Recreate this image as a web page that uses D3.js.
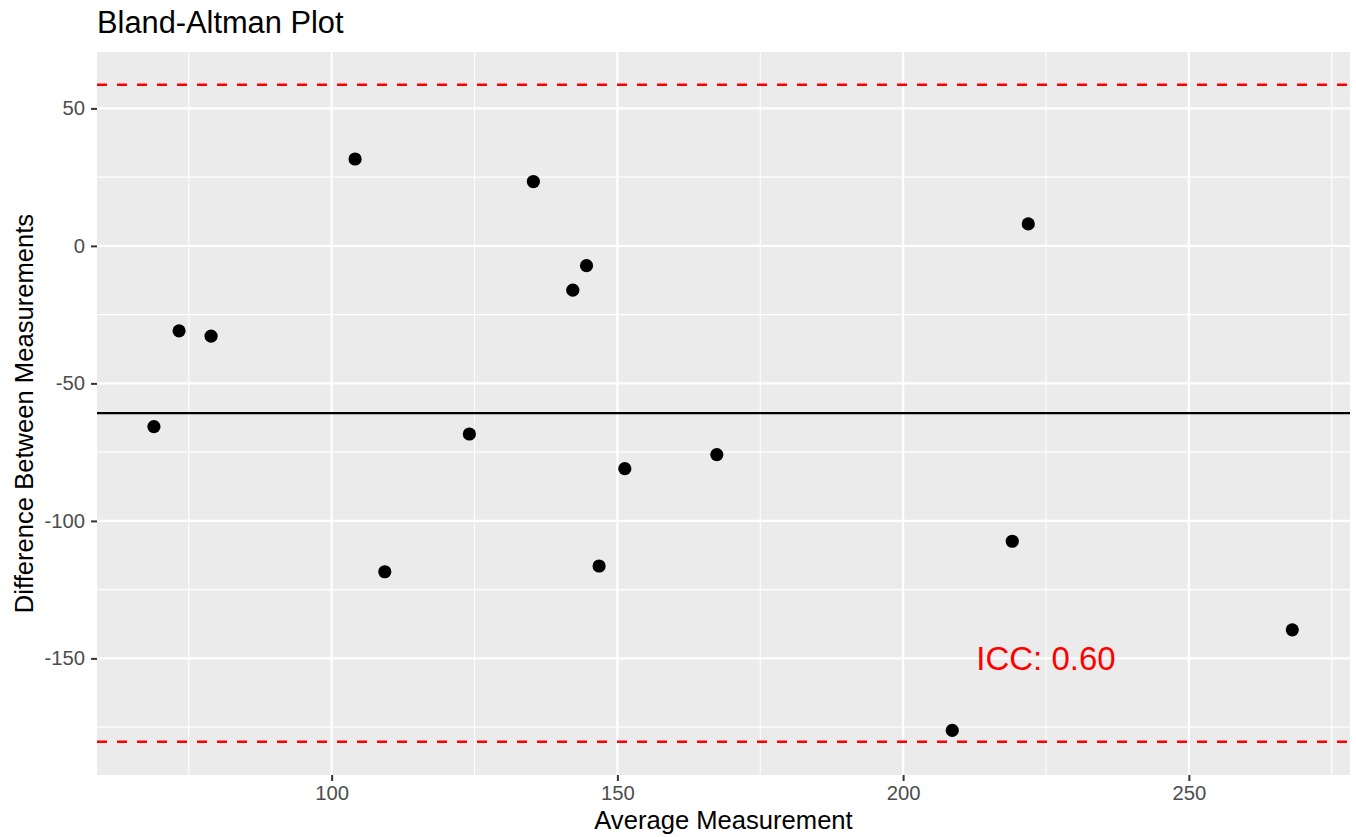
<!DOCTYPE html>
<html>
<head>
<meta charset="utf-8">
<script src="https://cdn.jsdelivr.net/npm/d3@7"></script>
<style>
  html, body { margin: 0; padding: 0; background: #ffffff; }
  svg { display: block; font-family: "Liberation Sans", Arial, Helvetica, sans-serif; }
</style>
</head>
<body>
<svg id="chart" width="1356" height="837"></svg>
<script>
// ---- data ----
const averageMeasurement = [68.9, 73.3, 78.9, 104.1, 109.3, 124.1, 135.3, 142.2, 144.6, 146.8, 151.3, 167.4, 208.6, 219.1, 221.9, 268.1];
const differenceMeasurement = [-65.7, -30.9, -32.8, 31.6, -118.5, -68.4, 23.4, -16.1, -7.2, -116.4, -81.0, -75.9, -176.2, -107.4, 8.0, -139.6];
const meanDifference = -60.8;
const limitsOfAgreement = [58.6, -180.3];
const xTicks = [100, 150, 200, 250];
const yTicks = [-150, -100, -50, 0, 50];
const xMinorTicks = [75, 125, 175, 225, 275];
const yMinorTicks = [-175, -125, -75, -25, 25];
const iccLabel = "ICC: 0.60";
const iccPosition = [225, -150];
const titleText = "Bland-Altman Plot";
const xTitle = "Average Measurement";
const yTitle = "Difference Between Measurements";

// ---- layout ----
const panel = { left: 97, right: 1350, top: 52, bottom: 775 };
const svg = d3.select("#chart");

const x = d3.scaleLinear().domain([58.94, 278.2]).range([panel.left, panel.right]);
const y = d3.scaleLinear().domain([-192.4, 70.5]).range([panel.bottom, panel.top]);

// panel background
svg.append("rect")
  .attr("x", panel.left).attr("y", panel.top)
  .attr("width", panel.right - panel.left).attr("height", panel.bottom - panel.top)
  .attr("fill", "#EBEBEB");

const grid = svg.append("g");
// minor grid
grid.selectAll(".xminor").data(xMinorTicks.filter(d => x(d) <= panel.right)).enter().append("line")
  .attr("x1", d => x(d)).attr("x2", d => x(d)).attr("y1", panel.top).attr("y2", panel.bottom)
  .attr("stroke", "#ffffff").attr("stroke-width", 1.1);
grid.selectAll(".yminor").data(yMinorTicks).enter().append("line")
  .attr("y1", d => y(d)).attr("y2", d => y(d)).attr("x1", panel.left).attr("x2", panel.right)
  .attr("stroke", "#ffffff").attr("stroke-width", 1.1);
// major grid
grid.selectAll(".xmajor").data(xTicks).enter().append("line")
  .attr("x1", d => x(d)).attr("x2", d => x(d)).attr("y1", panel.top).attr("y2", panel.bottom)
  .attr("stroke", "#ffffff").attr("stroke-width", 2.2);
grid.selectAll(".ymajor").data(yTicks).enter().append("line")
  .attr("y1", d => y(d)).attr("y2", d => y(d)).attr("x1", panel.left).attr("x2", panel.right)
  .attr("stroke", "#ffffff").attr("stroke-width", 2.2);

// mean line
svg.append("line")
  .attr("x1", panel.left).attr("x2", panel.right)
  .attr("y1", y(meanDifference)).attr("y2", y(meanDifference))
  .attr("stroke", "#000000").attr("stroke-width", 2.2);

// limits of agreement
svg.selectAll(".loa").data(limitsOfAgreement).enter().append("line")
  .attr("x1", panel.left).attr("x2", panel.right)
  .attr("y1", d => y(d)).attr("y2", d => y(d))
  .attr("stroke", "#FF0000").attr("stroke-width", 2.6)
  .attr("stroke-dasharray", "10,10");

// points
const pts = averageMeasurement.map((v, i) => ({ x: v, y: differenceMeasurement[i] }));
svg.append("g").selectAll("circle").data(pts).enter().append("circle")
  .attr("cx", d => x(d.x)).attr("cy", d => y(d.y)).attr("r", 6.6)
  .attr("fill", "#000000");

// ICC annotation
svg.append("text")
  .attr("x", x(iccPosition[0])).attr("y", y(iccPosition[1]))
  .attr("text-anchor", "middle").attr("dominant-baseline", "central")
  .attr("font-size", 33).attr("fill", "#FF0000")
  .text(iccLabel);

// axes
const fmt = d => String(d);
const xAxis = d3.axisBottom(x).tickValues(xTicks).tickSize(6).tickPadding(5).tickFormat(fmt);
const gx = svg.append("g").attr("transform", `translate(0,${panel.bottom})`).call(xAxis);
gx.select(".domain").remove();
gx.selectAll(".tick line").attr("stroke", "#333333").attr("stroke-width", 2);
gx.selectAll(".tick text").attr("fill", "#4D4D4D").attr("font-size", 20.3)
  .attr("font-family", "Liberation Sans, Arial, sans-serif");

const yAxis = d3.axisLeft(y).tickValues(yTicks).tickSize(6).tickPadding(6).tickFormat(fmt);
const gy = svg.append("g").attr("transform", `translate(${panel.left},0)`).call(yAxis);
gy.select(".domain").remove();
gy.selectAll(".tick line").attr("stroke", "#333333").attr("stroke-width", 2);
gy.selectAll(".tick text").attr("fill", "#4D4D4D").attr("font-size", 20.3)
  .attr("font-family", "Liberation Sans, Arial, sans-serif");

// titles
svg.append("text")
  .attr("x", panel.left).attr("y", 33)
  .attr("font-size", 30.8).attr("fill", "#000000")
  .text(titleText);

svg.append("text")
  .attr("x", (panel.left + panel.right) / 2).attr("y", 829)
  .attr("text-anchor", "middle").attr("font-size", 25.6).attr("fill", "#000000")
  .text(xTitle);

svg.append("text")
  .attr("transform", `translate(33,${(panel.top + panel.bottom) / 2}) rotate(-90)`)
  .attr("text-anchor", "middle").attr("font-size", 25.6).attr("fill", "#000000")
  .text(yTitle);
</script>
</body>
</html>
